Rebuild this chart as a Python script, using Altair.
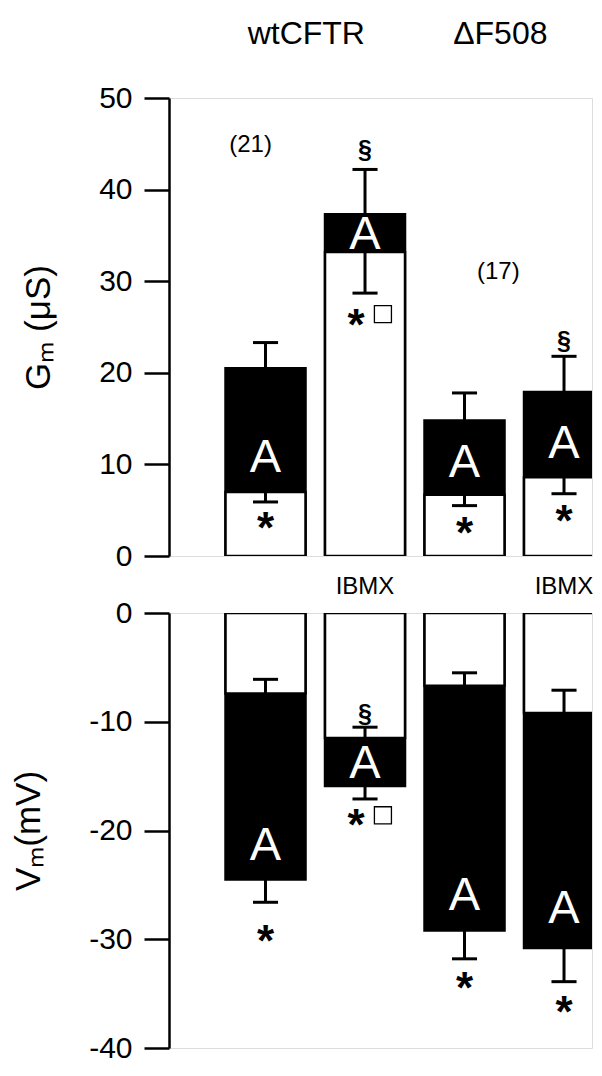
import altair as alt
import pandas as pd

# ---------------- data ----------------
conditions = ["wtCFTR", "wtCFTR + IBMX", "ΔF508", "ΔF508 + IBMX"]
bar_pos = [1, 2, 3, 4]

# Gm (µS): total conductance and residual after amiloride (white part)
gm_total = [20.5, 37.3, 14.8, 17.9]
gm_total_err = [2.8, 4.9, 3.0, 3.9]
gm_amil = [7.0, 33.2, 6.7, 8.6]
gm_amil_err = [1.1, 4.5, 1.2, 1.8]

# Vm (mV): voltage and value with amiloride (white part)
vm_total = [-24.5, -15.9, -29.2, -30.8]
vm_total_err = [2.1, 1.2, 2.6, 3.1]
vm_amil = [-7.4, -11.5, -6.7, -9.2]
vm_amil_err = [1.3, 1.0, 1.2, 2.1]

# annotation heights (data units)
gm_a_y = [10.7, 35.0, 10.2, 12.2]
gm_star_y = [4.1, 26.3, 3.6, 4.9]
vm_a_y = [-21.4, -13.9, -26.0, -27.2]
vm_star_y = [-29.2, -18.6, -33.6, -35.8]

gm_sect_pos = [2, 4]
gm_sect_y = [44.3, 23.5]
vm_sect_pos = [2]
vm_sect_y = [-9.3]

square_pos = [2]
gm_square_y = [26.4]
vm_square_y = [-18.6]

n_labels = ["(21)", "(17)"]
n_pos = [0.85, 3.34]
n_y = [44.9, 31.0]

group_labels = ["wtCFTR", "ΔF508"]
group_pos = [1.41, 3.36]
group_y = [57.0]

ibmx_pos = [2, 4]
ibmx_label = ["IBMX", "IBMX"]
ibmx_y = [-3.4]

gm_ticks = [0, 10, 20, 30, 40, 50]
vm_ticks = [0, -10, -20, -30, -40]

# ---------------- tables ----------------
FONT = "Liberation Sans"
HALF = 0.402
CAP = 0.126
PLOT_W = 423
XDOM = [0.03, 0.03 + PLOT_W / 99.5]

gm_df = pd.DataFrame({
    "cond": conditions, "pos": bar_pos,
    "total": gm_total, "terr": gm_total_err,
    "amil": gm_amil, "aerr": gm_amil_err,
    "ay": gm_a_y, "sy": gm_star_y,
})
vm_df = pd.DataFrame({
    "cond": conditions, "pos": bar_pos,
    "total": vm_total, "terr": vm_total_err,
    "amil": vm_amil, "aerr": vm_amil_err,
    "ay": vm_a_y, "sy": vm_star_y,
})


def panel(df, ydom, yticks, title, height, up_sign, sect_pos, sect_y, sq_y, extra=None):
    xs = alt.Scale(domain=XDOM, zero=False, nice=False)
    ys = alt.Scale(domain=ydom, zero=False, nice=False)
    base = alt.Chart(df).transform_calculate(
        x1=f"datum.pos - {HALF}", x2=f"datum.pos + {HALF}",
        c1=f"datum.pos - {CAP}", c2=f"datum.pos + {CAP}",
        tcap=f"datum.total + {up_sign} * datum.terr",
        acap=f"datum.amil - {up_sign} * datum.aerr",
    )
    X = alt.X("x1:Q", scale=xs, axis=None)
    yaxis = alt.Axis(values=yticks, title=title, grid=False, tickSize=25,
                     tickWidth=2.5, domainWidth=2.5, domainColor="black",
                     tickColor="black", labelFontSize=30, labelColor="black",
                     labelPadding=12, titleFontSize=35, titleFontWeight="normal",
                     titleColor="black", titlePadding=42, labelFont=FONT,
                     titleFont=FONT, labelExpr="'' + datum.value")
    black = base.mark_rect(color="black", stroke="black", strokeWidth=2.5, clip=True).encode(
        x=X, x2="x2:Q",
        y=alt.Y("total:Q", scale=ys, axis=yaxis), y2=alt.datum(0))
    white = base.mark_rect(color="white", stroke="black", strokeWidth=2.5, clip=True).encode(
        x=X, x2="x2:Q", y=alt.Y("amil:Q", scale=ys), y2=alt.datum(0))
    tline = base.mark_rule(color="black", strokeWidth=3).encode(
        x=alt.X("pos:Q", scale=xs), y=alt.Y("total:Q", scale=ys), y2="tcap:Q")
    tcap = base.mark_rule(color="black", strokeWidth=3).encode(
        x=alt.X("c1:Q", scale=xs), x2="c2:Q", y=alt.Y("tcap:Q", scale=ys))
    aline = base.mark_rule(color="black", strokeWidth=3).encode(
        x=alt.X("pos:Q", scale=xs), y=alt.Y("amil:Q", scale=ys), y2="acap:Q")
    acap = base.mark_rule(color="black", strokeWidth=3).encode(
        x=alt.X("c1:Q", scale=xs), x2="c2:Q", y=alt.Y("acap:Q", scale=ys))
    alab = base.mark_text(text="A", color="white", fontSize=47, font=FONT,
                          baseline="middle").encode(
        x=alt.X("pos:Q", scale=xs), y=alt.Y("ay:Q", scale=ys))
    stars = base.transform_calculate(
        sx="datum.pos == 2 ? datum.pos - 0.09 : datum.pos").mark_text(
        text="*", color="black", fontSize=44, fontWeight="bold", font=FONT,
        baseline="middle", dy=12).encode(
        x=alt.X("sx:Q", scale=xs), y=alt.Y("sy:Q", scale=ys))
    sect_df = pd.DataFrame({"pos": sect_pos, "y": sect_y})
    sect = alt.Chart(sect_df).mark_text(text="§", color="black", fontSize=25,
                                        fontWeight="bold", font=FONT,
                                        baseline="middle").encode(
        x=alt.X("pos:Q", scale=xs), y=alt.Y("y:Q", scale=ys))
    sq_df = pd.DataFrame({"pos": square_pos, "y": sq_y})
    sq = alt.Chart(sq_df).transform_calculate(sx="datum.pos + 0.18").mark_point(
        shape="square", filled=False, size=290, color="black", strokeWidth=1.3,
        fill="white", fillOpacity=1, opacity=1).encode(
        x=alt.X("sx:Q", scale=xs), y=alt.Y("y:Q", scale=ys))
    layers = [black, white, tline, tcap, aline, acap, alab, stars, sect, sq]
    if extra is not None:
        layers += [e(xs, ys) for e in extra]
    return alt.layer(*layers).properties(width=PLOT_W, height=height)


def n_layer(xs, ys):
    d = pd.DataFrame({"t": n_labels, "pos": n_pos, "y": n_y})
    return alt.Chart(d).mark_text(fontSize=24, font=FONT, color="black",
                                  baseline="middle").encode(
        x=alt.X("pos:Q", scale=xs), y=alt.Y("y:Q", scale=ys), text="t:N")


def group_layer(xs, ys):
    d = pd.DataFrame({"t": group_labels, "pos": group_pos, "y": group_y * 2})
    return alt.Chart(d).mark_text(fontSize=32, font=FONT, color="black",
                                  baseline="middle").encode(
        x=alt.X("pos:Q", scale=xs), y=alt.Y("y:Q", scale=ys), text="t:N")


def ibmx_layer(xs, ys):
    d = pd.DataFrame({"t": ibmx_label, "pos": ibmx_pos, "y": ibmx_y * 2})
    return alt.Chart(d).mark_text(fontSize=24, font=FONT, color="black",
                                  baseline="middle").encode(
        x=alt.X("pos:Q", scale=xs), y=alt.Y("y:Q", scale=ys), text="t:N")


top = panel(gm_df, [0, 50], gm_ticks, "Gₘ  (μS)", 458, 1,
            gm_sect_pos, gm_sect_y, gm_square_y,
            extra=[n_layer, group_layer, ibmx_layer])
bottom = panel(vm_df, [-40, 0], vm_ticks, "Vₘ(mV)", 435, -1,
               vm_sect_pos, vm_sect_y, vm_square_y)

chart = alt.vconcat(top, bottom, spacing=57, bounds="flush").properties(
    padding={"left": 3, "top": 9, "right": 0, "bottom": 0}
).configure_view(strokeWidth=0).configure(font=FONT)

chart.save("out.html", embed_options={"renderer": "svg", "actions": False})
